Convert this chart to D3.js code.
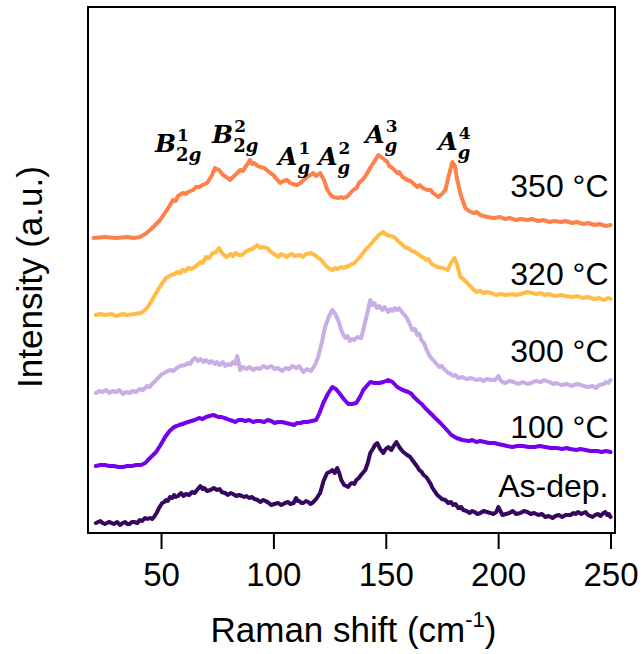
<!DOCTYPE html>
<meta charset="utf-8">
<style>
  body { margin: 0; background: #fff; }
  svg text { font-family: "Liberation Sans", Arial, sans-serif; }
</style>
<body>
<svg></svg>
<script src="https://cdn.jsdelivr.net/npm/d3@7"></script>
<script>

// spectra: [Raman shift (cm-1), intensity above the trace's own baseline]
var s350 = [[20,0],[25,1],[30,0],[35,1],[38,0],[40.6,1],[43,4],[45.1,8],[47,12],[49.6,18],[52,26],[53.5,31],[55.3,38],[56.5,37],[57.5,42],[59.8,45],[61,44],[62,46],[64.3,48],[65.5,51],[67,51],[68.5,53],[70.5,55],[72.5,62],[74,70],[75.8,68],[77.6,63],[79,61],[80.7,58],[82,61],[83,63],[85.2,68],[86.5,67],[87.5,71],[88.5,74],[89.6,78],[90.5,74],[91.5,75],[93,72],[94.1,71],[96,70],[97.5,67],[98.6,65],[100,63],[101,60],[103,55],[104.5,57],[106.1,58],[107.5,55],[108.5,54],[110.6,53],[112,55],[113,57],[115,61],[116.5,63],[117.7,65],[119,62],[120.8,65],[122.5,58],[124,48],[125.5,43],[126.6,41],[129,40],[130,41],[131,40],[132.5,41],[133.5,43],[135.5,48],[137,50],[138,55],[140,59],[141.8,65],[143,70],[144.5,75],[146.7,83],[148.5,80],[150.7,76],[151.5,72],[153,70],[155.1,65],[156,66],[157.5,61],[159.6,58],[161,57],[162,55],[164,51],[165,53],[166.5,50],[168.5,48],[170,48],[171,45],[173.4,41],[175,44],[176.5,48],[178,62],[179.6,76],[180.8,72],[181.8,58],[183.5,42],[185.4,30],[187,27],[189,25],[190.5,26],[192,23],[195.2,21],[198,20],[201,21],[203,19],[205,20],[208,18],[210,19],[213,18],[215,19],[218,17],[220,18],[223,16],[225,17],[228,16],[230,17],[233,15],[235,16],[238,14],[240,15],[243,13],[245,14],[248,12],[250,13]];

var s320 = [[21,0],[23,1],[25,0],[28,1],[30,-1],[33,1],[35,0],[38,1],[41.1,2],[43.8,7],[45.8,14],[47.8,22],[50,30],[52.2,37],[54.5,40],[56,41],[57.1,43],[58.5,42],[59.5,45],[61,44],[62,47],[63.5,46],[65.1,48],[67.5,53],[68.5,52],[70,58],[71.5,57],[73,62],[74.5,63],[75.8,67],[76.5,64],[77.5,61],[79,58],[81,61],[82,59],[83,62],[84.5,60],[86,60],[87.5,63],[89,65],[90.5,66],[92.8,70],[94,67],[95,68],[97.2,67],[98.5,64],[99.5,62],[101,60],[102.1,58],[103.5,61],[104.5,60],[106,58],[107,60],[108.5,61],[109.5,59],[111.9,60],[113,58],[114.5,61],[116.8,62],[119,59],[121.3,55],[123.5,49],[124.5,47],[126.2,45],[127.5,47],[128.5,46],[130,48],[131.1,47],[133.5,49],[135,51],[136,52],[138.5,58],[140.9,65],[143,70],[144.9,75],[146.9,80],[148.9,83],[150.5,80],[152,79],[153.8,78],[155,75],[156,73],[157.5,70],[158.3,68],[160.7,66],[161.5,64],[163.1,63],[165.5,59],[167,57],[168,55],[169,56],[170.5,51],[172.9,48],[175.3,47],[177.5,45],[179,52],[180.5,57],[181.8,50],[183.2,38],[184.5,36],[186.3,32],[188.3,27],[190.3,23],[192,24],[193.5,22],[195,23],[197,22],[199,20],[201,21],[203.5,20],[206.3,21],[208,20],[210,21],[211.5,22],[213,23],[215,22],[217,21],[219,22],[220.5,20],[222.8,21],[225,19],[228,20],[230,19],[232.5,18],[235.3,19],[237.5,17],[240,18],[242.5,16],[245,17],[247,15],[249,17],[250,16]];

var s300 = [[21,0],[22.5,2],[24,1],[25.5,3],[27,0],[28.5,2],[30,1],[31.5,3],[33,-1],[34.5,1],[36,0],[37.5,2],[39,1],[40.5,4],[42,3],[43.8,7],[45,6],[46,9],[47.5,12],[49.1,16],[50.5,19],[51.5,20],[53,22],[54,23],[55.5,22],[57,25],[58.5,27],[60.7,28],[62,30],[63,29],[64,33],[65.1,35],[66.5,32],[67.5,34],[69,31],[70,33],[71.5,30],[72.5,32],[74,29],[74.9,31],[76,28],[77.5,31],[78.5,27],[79.8,29],[81,28],[82,31],[83,29],[83.9,37],[84.6,30],[85.2,23],[86.5,26],[88,24],[89.5,26],[91,23],[92.5,25],[94,24],[95.5,27],[97.2,25],[99,27],[100.5,24],[102,25],[103.9,22],[105.5,25],[107,24],[108.5,27],[110.2,25],[111.5,27],[113.3,21],[115,24],[116.8,22],[118.5,28],[119.9,36],[121.5,50],[123,66],[124.6,76],[126.2,83],[127.5,79],[128.8,73],[130.5,61],[132,55],[133,57],[134,52],[135,54],[136,53],[137.5,56],[139.1,55],[140.5,68],[141.8,80],[143.1,93],[144,88],[145,90],[146,85],[147.1,87],[148.5,83],[149.5,86],[151,81],[152,84],[153,82],[154,85],[155,83],[156,85],[157.5,80],[159.1,76],[160.5,70],[161.8,63],[163,64],[164,58],[165,59],[165.8,53],[167,50],[168,44],[169.8,36],[171,33],[171.8,31],[173,28],[173.8,26],[175,27],[175.8,24],[177,22],[177.8,20],[179,19],[180,17],[181,18],[182.3,15],[184,16],[186,14],[188,15],[190.3,13],[192,14],[193.5,12],[195,14],[197,13],[198.5,13],[199.5,15],[200.1,17],[201,13],[202,11],[203.2,10],[205,12],[207,11],[209,9],[211,11],[213,9],[214.8,10],[216.5,12],[219,11],[220.5,13],[222.8,11],[224.5,9],[226,10],[228,8],[230.8,9],[232.5,7],[235,9],[237,8],[238,7],[240,6],[241.9,7],[243.5,5],[245,8],[247,9],[248,11],[249,10],[250,13]];

var s100 = [[21,0],[23,1],[25,1],[27,0],[29,0],[31,-1],[33.1,-1],[35,0],[37,0],[39,1],[41.1,1],[43,3],[44.2,6],[46,10],[47.8,14],[49.8,21],[51.8,29],[53.8,35],[55.8,39],[57,40],[58,41],[59.5,42],[60.7,43],[62,44],[63.5,45],[65,46],[66.9,48],[68.5,47],[70,49],[71.5,50],[73.2,51],[74.5,50],[75.5,49],[77,49],[78.1,48],[79.5,47],[80.5,46],[82,45],[83,44],[84.5,46],[86,46],[87.5,45],[89.2,46],[91,44],[92.5,45],[94,45],[95.9,44],[97.5,46],[99,45],[100.5,43],[102.1,44],[104,44],[105.5,43],[107.5,42],[109.2,41],[110.5,43],[112,43],[113.5,44],[115,44],[117,45],[119,46],[120.5,53],[122.2,63],[124.2,72],[126.2,79],[127.8,77],[129.3,73],[131.3,67],[133.3,62],[135,62],[136.9,63],[138.5,69],[140,76],[141.5,80],[143.1,84],[145,83],[147.1,83],[149,84],[151.1,86],[153,84],[155.1,79],[157.5,76],[160,74],[161.5,72],[162.5,69],[164.9,64],[166,62],[167.5,58],[169.8,53],[172,48],[174.3,43],[176.8,37],[179.2,31],[181.5,28],[184.1,26],[187,25],[188.5,26],[190.3,24],[192,25],[194,24],[196,23],[198.3,23],[200,22],[202,21],[204,20],[206.3,19],[208.5,20],[211,20],[213.5,19],[216.1,19],[218.5,20],[221,19],[223.5,18],[226,18],[228.5,17],[230.5,18],[232,17],[235,16],[236.5,17],[238.9,16],[241,15],[244,15],[246,14],[248,15],[250,14]];

var sAsDep = [[21,0],[22,1],[23,2],[24,0],[25,-1],[26.8,1],[28,0],[29,-1],[30.5,1],[31.7,-2],[33,0],[34,1],[35,-1],[36,-1],[37,1],[38,1],[39.5,0],[40.5,3],[41.5,2],[42.9,5],[44,4],[45,5],[46,4],[46.9,6],[48,10],[49.1,15],[50.5,20],[51.5,21],[52.2,23],[53,22],[54,26],[55,25],[55.8,28],[56.5,26],[57.5,27],[58.9,30],[60,27],[61,29],[62.5,28],[63.8,31],[65,30],[66,33],[67.5,37],[68.5,34],[69.2,35],[70.5,32],[72,33],[73.5,35],[74.9,33],[76,34],[77,31],[78.5,30],[79.8,28],[81,30],[82,29],[83.5,27],[84.7,28],[86,27],[87,26],[88,27],[89.2,25],[90.5,26],[91.5,24],[93,23],[94.1,21],[95.5,23],[96.5,22],[98,20],[99,18],[100.5,19],[102,20],[103.5,18],[105.2,20],[106.5,21],[107.5,19],[109,20],[110.1,25],[110.8,22],[111.5,22],[112.5,20],[113.3,20],[114.5,22],[115.5,21],[116.5,19],[117.3,20],[118.2,22],[119,24],[120.8,30],[122.3,42],[123.9,50],[125,51],[126.2,53],[127.3,50],[128.4,55],[129.3,50],[130.2,43],[131.5,38],[132.5,37],[133.3,36],[134.2,39],[135,40],[136,39],[136.9,43],[138,45],[139,48],[140.9,53],[142,60],[143.1,70],[144.5,75],[145.2,78],[146.2,80],[147.5,74],[148.9,70],[150,74],[151.1,76],[152.5,73],[153.5,77],[154.7,81],[156,76],[157,73],[157.8,71],[159.5,68],[160.9,66],[161.8,63],[162.8,60],[163.8,57],[164.9,53],[166,51],[166.8,48],[168,46],[168.9,43],[170,39],[170.8,35],[172,31],[172.9,28],[174,26],[175,24],[176.5,23],[177.8,20],[179,21],[180,18],[181,19],[182.3,15],[183.5,16],[184.5,13],[186,12],[187.2,10],[188.5,12],[189.5,11],[190.8,9],[192.1,10],[193.5,12],[195,11],[196.5,10],[198,9],[199.2,11],[200.1,16],[201,12],[201.9,8],[203.5,9],[205,10],[206.5,12],[208,9],[209.9,10],[211.5,12],[213,11],[214.5,9],[216,10],[217.9,8],[219.5,9],[221,6],[222.5,7],[224.2,5],[225.5,7],[227,8],[228.5,6],[230,8],[232.2,8],[233.5,10],[234.5,9],[235.5,11],[237,9],[238.9,11],[240,8],[242,6],[243.2,8],[244.5,9],[245.5,7],[246.9,10],[247.7,11],[248.5,8],[249.3,9],[250,6]];

var spectra = [s350, s320, s300, s100, sAsDep];
var sampleNames = ["350 \u00B0C", "320 \u00B0C", "300 \u00B0C", "100 \u00B0C", "As-dep."];
var offsets = [295, 218, 140, 67, 10];       // vertical stacking offset (a.u.)
var labelLevel = [41, 30, 31, 28, 26];       // name label height above offset (a.u.)
var colors = ["#ff8049", "#ffbd48", "#c9ade6", "#7500ea", "#35075f"];

var xTicks = [50, 100, 150, 200, 250];

// phonon mode annotations: letter, subscript, superscript, position (cm-1, a.u.)
var modes = [
  {main: "B", sub: "2g", sup: "1", x: 47.3, y: 381},
  {main: "B", sub: "2g", sup: "2", x: 72.7, y: 390},
  {main: "A", sub: "g", sup: "1", x: 102.1, y: 368},
  {main: "A", sub: "g", sup: "2", x: 119.9, y: 368},
  {main: "A", sub: "g", sup: "3", x: 140.9, y: 390},
  {main: "A", sub: "g", sup: "4", x: 173.4, y: 383}
];

var width = 643, height = 654;
var margin = {top: 7, right: 28, bottom: 121, left: 88};

var svg = d3.select("svg")
    .attr("width", width)
    .attr("height", height);

var x = d3.scaleLinear()
    .domain([17.5, 252])
    .range([margin.left, width - margin.right]);

var y = d3.scaleLinear()
    .domain([0, 526])
    .range([height - margin.bottom, margin.top]);

// spectra lines
var line = d3.line()
    .x(function(d){ return x(d[0]); })
    .y(function(d){ return y(d[1]); });

spectra.forEach(function(s, i) {
  var shifted = s.map(function(d){ return [d[0], d[1] + offsets[i]]; });
  svg.append("path")
     .datum(shifted)
     .attr("d", line)
     .attr("fill", "none")
     .attr("stroke", colors[i])
     .attr("stroke-width", 4)
     .attr("stroke-linejoin", "round")
     .attr("stroke-linecap", "round");

  svg.append("text")
     .attr("x", x(250) - 2)
     .attr("y", y(offsets[i] + labelLevel[i]))
     .attr("text-anchor", "end")
     .attr("font-size", 32)
     .attr("fill", "#000")
     .text(sampleNames[i]);
});

// frame
svg.append("rect")
   .attr("x", margin.left)
   .attr("y", margin.top)
   .attr("width", width - margin.right - margin.left)
   .attr("height", height - margin.bottom - margin.top)
   .attr("fill", "none")
   .attr("stroke", "#000")
   .attr("stroke-width", 2);

// x axis
var xAxis = svg.append("g")
    .attr("transform", "translate(0," + (height - margin.bottom) + ")")
    .call(d3.axisBottom(x).tickValues(xTicks).tickSize(16).tickPadding(14));
xAxis.select(".domain").remove();
xAxis.selectAll(".tick line").attr("stroke-width", 2);
xAxis.selectAll(".tick text")
     .attr("font-size", 33)
     .attr("fill", "#000");

// axis titles
var xt = svg.append("text")
    .attr("x", (margin.left + width - margin.right) / 2 + 2)
    .attr("y", 642)
    .attr("text-anchor", "middle")
    .attr("font-size", 35);
xt.append("tspan").text("Raman shift (cm");
xt.append("tspan").attr("font-size", 22).attr("dy", -15).text("-1");
xt.append("tspan").attr("dy", 15).text(")");

svg.append("text")
   .attr("transform", "translate(42," + 277 + ") rotate(-90)")
   .attr("text-anchor", "middle")
   .attr("font-size", 35)
   .text("Intensity (a.u.)");

// mode labels (serif bold italic, like the math font in the original)
var serif = "'DejaVu Serif', 'Liberation Serif', serif";
modes.forEach(function(m) {
  var x0 = x(m.x), y0 = y(m.y);
  var t = svg.append("text")
     .attr("x", x0).attr("y", y0)
     .style("font-family", serif)
     .style("font-weight", "bold")
     .style("font-style", "italic")
     .style("font-size", "25px")
     .text(m.main);
  var w = t.node().getComputedTextLength();

  svg.append("text")
     .attr("x", x0 + w + 1).attr("y", y0 - 11)
     .style("font-family", serif)
     .style("font-weight", "bold")
     .style("font-size", "17px")
     .text(m.sup);

  var sb = svg.append("text")
     .attr("x", x0 + w).attr("y", y0 + 9)
     .style("font-family", serif)
     .style("font-weight", "bold")
     .style("font-size", "18px");
  if (m.sub.length > 1) {
    sb.append("tspan").text(m.sub.slice(0, 1));
    sb.append("tspan").style("font-style", "italic").text(m.sub.slice(1));
  } else {
    sb.append("tspan").style("font-style", "italic").text(m.sub);
  }
});

</script>
</body>
</html>
